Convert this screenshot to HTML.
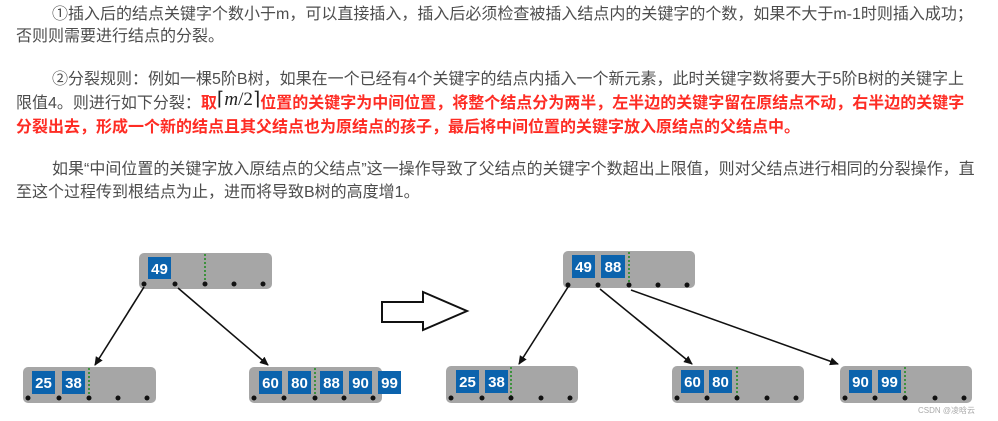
<!DOCTYPE html>
<html><head><meta charset="utf-8"><style>
body{margin:0;width:998px;height:421px;background:#fff;position:relative;overflow:hidden;font-family:"Liberation Sans","Noto Sans CJK SC",sans-serif;}
.l{position:absolute;white-space:nowrap;font-size:16px;color:#4d4d4d;line-height:20px;}
.r{color:#fe2c24;font-weight:bold;}
.m{font-family:"Liberation Serif",serif;font-size:19px;color:#222;font-weight:normal;position:relative;top:-3px;}
svg{position:absolute;left:0;top:0;}
</style></head><body>
<div class="l" style="left:52px;top:5px">①插入后的结点关键字个数小于m，可以直接插入，插入后必须检查被插入结点内的关键字的个数，如果不大于m-1时则插入成功；</div>
<div class="l" style="left:16px;top:27px">否则则需要进行结点的分裂。</div>
<div class="l" style="left:52px;top:70px">②分裂规则：例如一棵5阶B树，如果在一个已经有4个关键字的结点内插入一个新元素，此时关键字数将要大于5阶B树的关键字上</div>
<div class="l" style="left:16px;top:93px">限值4。则进行如下分裂：<span class="r">取</span><span class="m">⌈<i>m</i>/2⌉</span><span class="r">位置的关键字为中间位置，将整个结点分为两半，左半边的关键字留在原结点不动，右半边的关键字</span></div>
<div class="l r" style="left:16px;top:118px">分裂出去，形成一个新的结点且其父结点也为原结点的孩子，最后将中间位置的关键字放入原结点的父结点中。</div>
<div class="l" style="left:52px;top:160px">如果“中间位置的关键字放入原结点的父结点”这一操作导致了父结点的关键字个数超出上限值，则对父结点进行相同的分裂操作，直</div>
<div class="l" style="left:16px;top:183px">至这个过程传到根结点为止，进而将导致B树的高度增1。</div>
<svg width="998" height="421" viewBox="0 0 998 421" font-family="Liberation Sans, sans-serif">
<defs><marker id="a" markerWidth="10" markerHeight="10" refX="8" refY="4" orient="auto" markerUnits="userSpaceOnUse"><path d="M0,0 L9,4 L0,8 z" fill="#111"/></marker></defs>
<g fill="#a6a6a6">
<rect x="139" y="253" width="133" height="36" rx="5"/>
<rect x="23" y="367" width="133" height="36" rx="5"/>
<rect x="249" y="367" width="133" height="36" rx="5"/>
<rect x="563" y="251" width="132" height="37" rx="5"/>
<rect x="446" y="366" width="132" height="37" rx="5"/>
<rect x="672" y="366" width="132" height="37" rx="5"/>
<rect x="840" y="366" width="132" height="37" rx="5"/>
</g>
<g fill="#0b63ad">
<rect x="148" y="257" width="23" height="22"/>
<rect x="32" y="371" width="23" height="23"/><rect x="62" y="371" width="23" height="23"/>
<rect x="259" y="371" width="23" height="23"/><rect x="288" y="371" width="23" height="23"/><rect x="320" y="371" width="23" height="23"/><rect x="349" y="371" width="23" height="23"/><rect x="378" y="371" width="23" height="23"/>
<rect x="572" y="255" width="23" height="23"/><rect x="601" y="255" width="24" height="23"/>
<rect x="456" y="370" width="23" height="23"/><rect x="485" y="370" width="23" height="23"/>
<rect x="681" y="370" width="23" height="23"/><rect x="709" y="370" width="23" height="23"/>
<rect x="849" y="370" width="23" height="23"/><rect x="878" y="370" width="23" height="23"/>
</g>
<g fill="#fff" font-size="15" font-weight="bold" text-anchor="middle">
<text x="159.5" y="274">49</text>
<text x="43.5" y="388">25</text><text x="73.5" y="388">38</text>
<text x="270.5" y="388">60</text><text x="299.5" y="388">80</text><text x="331.5" y="388">88</text><text x="360.5" y="388">90</text><text x="389.5" y="388">99</text>
<text x="583.5" y="272">49</text><text x="613" y="272">88</text>
<text x="467.5" y="387">25</text><text x="496.5" y="387">38</text>
<text x="692.5" y="387">60</text><text x="720.5" y="387">80</text>
<text x="860.5" y="387">90</text><text x="889.5" y="387">99</text>
</g>
<g stroke="#1a8a1a" stroke-width="1.5" stroke-dasharray="2,2">
<line x1="205" y1="254" x2="205" y2="284"/>
<line x1="89" y1="368" x2="89" y2="398"/>
<line x1="315" y1="368" x2="315" y2="398"/>
<line x1="629" y1="252" x2="629" y2="285"/>
<line x1="511" y1="367" x2="511" y2="398"/>
<line x1="737" y1="367" x2="737" y2="398"/>
<line x1="905" y1="367" x2="905" y2="398"/>
</g>
<g fill="#111">
<circle cx="144" cy="284" r="2.5"/><circle cx="175" cy="284" r="2.5"/><circle cx="205" cy="284" r="2.5"/><circle cx="234" cy="284" r="2.5"/><circle cx="263" cy="284" r="2.5"/>
<circle cx="28" cy="398" r="2.5"/><circle cx="59" cy="398" r="2.5"/><circle cx="89" cy="398" r="2.5"/><circle cx="118" cy="398" r="2.5"/><circle cx="147" cy="398" r="2.5"/>
<circle cx="254" cy="398" r="2.5"/><circle cx="284" cy="398" r="2.5"/><circle cx="315" cy="398" r="2.5"/><circle cx="344" cy="398" r="2.5"/><circle cx="373" cy="398" r="2.5"/>
<circle cx="568" cy="285" r="2.5"/><circle cx="598" cy="285" r="2.5"/><circle cx="629" cy="285" r="2.5"/><circle cx="658" cy="285" r="2.5"/><circle cx="687" cy="285" r="2.5"/>
<circle cx="451" cy="398" r="2.5"/><circle cx="482" cy="398" r="2.5"/><circle cx="511" cy="398" r="2.5"/><circle cx="541" cy="398" r="2.5"/><circle cx="570" cy="398" r="2.5"/>
<circle cx="677" cy="398" r="2.5"/><circle cx="707" cy="398" r="2.5"/><circle cx="737" cy="398" r="2.5"/><circle cx="767" cy="398" r="2.5"/><circle cx="796" cy="398" r="2.5"/>
<circle cx="845" cy="398" r="2.5"/><circle cx="875" cy="398" r="2.5"/><circle cx="905" cy="398" r="2.5"/><circle cx="935" cy="398" r="2.5"/><circle cx="964" cy="398" r="2.5"/>
</g>
<g stroke="#111" stroke-width="1.6" marker-end="url(#a)">
<line x1="144" y1="287" x2="95" y2="365"/>
<line x1="178" y1="288" x2="268" y2="365"/>
<line x1="568" y1="287" x2="519" y2="364"/>
<line x1="600" y1="289" x2="692" y2="364"/>
<line x1="631" y1="290" x2="838" y2="364"/>
</g>
<path d="M382,302 L423,302 L423,292 L467,311 L423,330 L423,322 L382,322 Z" fill="#fff" stroke="#111" stroke-width="2"/>
<text x="918" y="413" font-size="8" fill="#aaa" font-family="Liberation Sans, Noto Sans CJK SC, sans-serif">CSDN @凌晗云</text>
</svg>
</body></html>
